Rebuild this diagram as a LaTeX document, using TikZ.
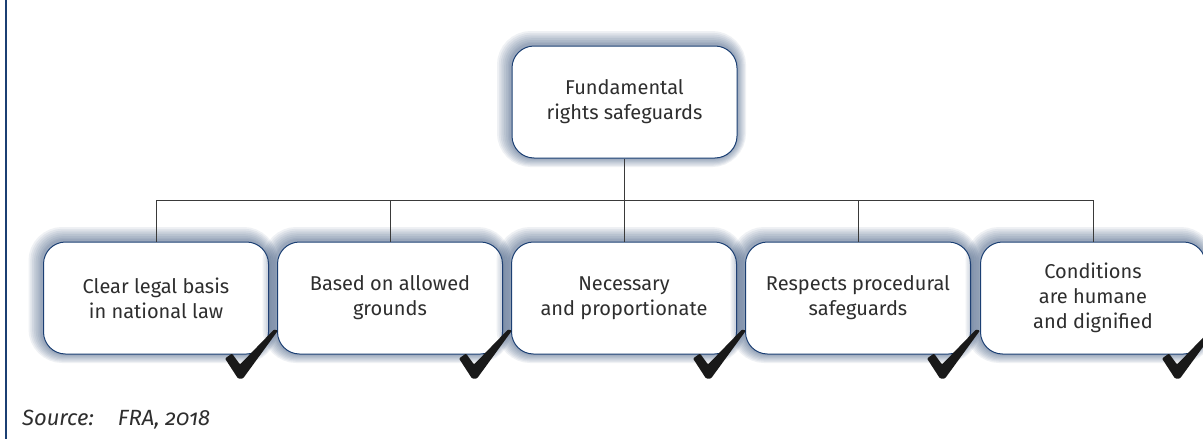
\documentclass[tikz,border=0pt]{standalone}
\usepackage{fontspec}
\setmainfont{Fira Sans}[Numbers=OldStyle]
\usetikzlibrary{calc}
\definecolor{framblue}{HTML}{1B3F73}
\definecolor{glowblue}{HTML}{2C4A75}
\definecolor{textgray}{HTML}{2E2E2E}
\definecolor{linegray}{HTML}{3A3A3A}
\tikzset{
  glowring/.style 2 args={preaction={draw=glowblue, draw opacity=0.075, line width=#1,
    transform canvas={xshift=-#2, yshift=#2}}},
  glow/.style={glowring={24pt}{3pt}, glowring={21pt}{2.7pt}, glowring={18pt}{2.4pt},
    glowring={15pt}{2.1pt}, glowring={12pt}{1.8pt}, glowring={9pt}{1.5pt},
    glowring={6pt}{1.2pt}, glowring={4pt}{1pt}},
  safebox/.style={glow, draw=framblue, line width=1pt, fill=white, rounded corners=22pt,
    minimum width=225pt, minimum height=112pt, inner sep=0pt, align=center,
    font=\fontsize{20}{25}\selectfont, text=textgray},
  tree/.style={draw=linegray, line width=0.8pt},
  tick/.style={fill=black!90, rounded corners=1pt}
}
\begin{document}
\begin{tikzpicture}[x=1pt, y=-1pt]
\useasboundingbox (0,0) rectangle (1203,439);
\fill[white] (0,0) rectangle (1203,439);
\draw[framblue, line width=1.3pt] (6,0) -- (6,439);
% boxes
\node[safebox] (safeguards) at (624.5,102) {Fundamental\\rights safeguards};
\node[safebox] (basis) at (156,298) {Clear legal basis\\in national law};
\node[safebox] (grounds) at (390,298) {Based on allowed\\grounds};
\node[safebox] (necessary) at (624,298) {Necessary\\and proportionate};
\node[safebox] (procedure) at (858,298) {Respects procedural\\safeguards};
\node[safebox] (conditions) at (1093,298) {Conditions\\are humane\\and dignified};
% tree
\coordinate (bar) at (624.5,200);
\draw[tree] (safeguards.south) -- (bar);
\foreach \n in {basis, grounds, necessary, procedure, conditions}
  \draw[tree] (bar) -| (\n.north);
% ticks
\foreach \n in {basis, grounds, necessary, procedure, conditions}
  \fill[tick] ($(\n.south east)+(-44,4)$) -- ++(7,-5) -- ++(8,11) -- ++(34,-35)
    -- ++(4,1) -- ++(-35,48) -- ++(-5,0) -- cycle;
% source
\node[anchor=west, inner sep=0pt, text=textgray] (source) at (22,420)
  {\fontsize{22}{26}\selectfont\itshape Source:\hspace{1.1em}FRA, 2018};
\end{tikzpicture}
\end{document}
